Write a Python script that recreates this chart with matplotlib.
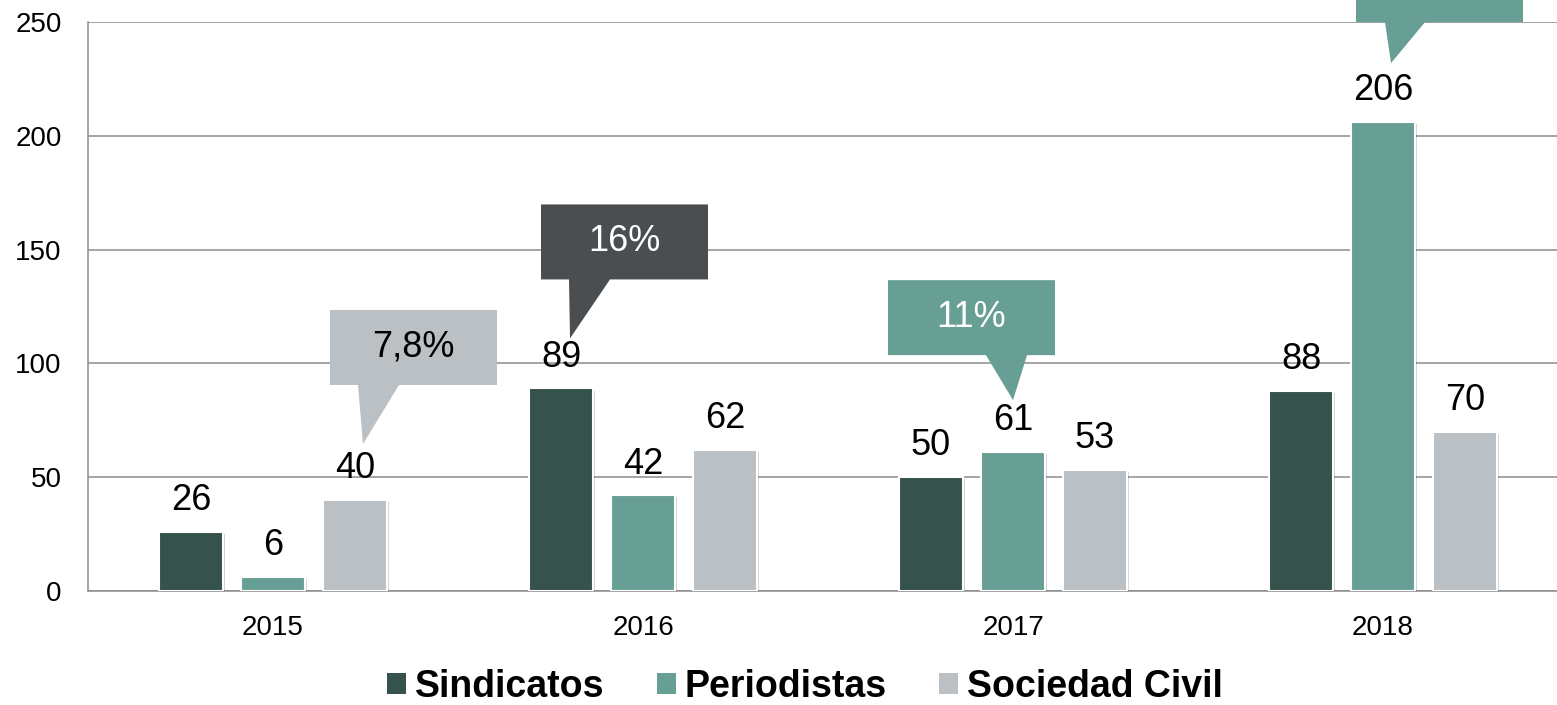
import numpy as np
import matplotlib
matplotlib.use('Agg')
import matplotlib.pyplot as plt
import matplotlib.patheffects as pe
from matplotlib.patches import Polygon, Patch

plt.rcParams['font.family'] = ['Liberation Sans', 'DejaVu Sans']

# ---- datos ----
years = ['2015', '2016', '2017', '2018']
sindicatos = [26, 89, 50, 88]
periodistas = [6, 42, 61, 206]
sociedad_civil = [40, 62, 53, 70]
series_names = ['Sindicatos', 'Periodistas', 'Sociedad Civil']
colors = ['#36524c', '#689f95', '#bbc0c4']

# globos: (año, serie, texto)
callout_year = [0, 1, 2, 3]
callout_series = [2, 0, 1, 1]
callout_text = ['7,8%', '16%', '11%', '36,5%']
callout_color = ['#bbc0c4', '#4b4e51', '#689f95', '#689f95']
callout_textcolor = ['black', 'white', 'white', 'white']
# geometria en pixeles: dx punta, hueco punta, izq caja, hueco caja, base izq, base der
callout_geom = [(8, 56, -33, 59, 28, 69),
                (9, 50, -29, 59, 28, 69),
                (0, 52, -125, 45, 98, 139),
                (8, 59, -35, 41, 29, 69)]
box_w, box_h = 167, 75

W, H = 1557, 705
fig = plt.figure(figsize=(W / 100, H / 100), dpi=100)
ax = fig.add_axes([88 / W, 114 / H, 1480 / W, 569 / H])

x = np.arange(len(years))
w = 0.173
off = 0.2216
data = [sindicatos, periodistas, sociedad_civil]
shadow = [pe.SimplePatchShadow(offset=(1.5, -1.5), alpha=0.2), pe.Normal()]

for i, vals in enumerate(data):
    pos = x + (i - 1) * off
    bars = ax.bar(pos, vals, w, color=colors[i], edgecolor='white',
                  linewidth=1.5, zorder=3)
    for b in bars:
        b.set_path_effects(shadow)
    for xi, v in zip(pos, vals):
        ax.annotate(str(v), (xi, v), xytext=(0, 10), textcoords='offset points',
                    ha='center', va='bottom', fontsize=26, zorder=5)

ax.set_xlim(-0.5, 3.5)
ax.set_ylim(0, 250)

# px -> datos
px_x = 1 / 370
px_y = 250 / 569

for k in range(len(callout_text)):
    yi = callout_year[k]
    si = callout_series[k]
    v = data[si][yi]
    dx, gap, bl, bgap, b1, b2 = callout_geom[k]
    tx = x[yi] + (si - 1) * off + dx * px_x
    ty = v + gap * px_y
    L = tx + bl * px_x
    R = L + box_w * px_x
    B = ty + bgap * px_y
    T = B + box_h * px_y
    pts = [(L, B), (L + b1 * px_x, B), (tx, ty), (L + b2 * px_x, B),
           (R, B), (R, T), (L, T)]
    ax.add_patch(Polygon(pts, closed=True, facecolor=callout_color[k],
                         edgecolor='none', zorder=6, clip_on=False))
    ax.text((L + R) / 2, (B + T) / 2, callout_text[k], ha='center', va='center',
            fontsize=26, color=callout_textcolor[k], zorder=7, clip_on=False)

ax.set_xticks(x, years)
ax.set_yticks(range(0, 251, 50))
ax.tick_params(axis='both', length=0, labelsize=20)
ax.tick_params(axis='y', pad=19)
ax.tick_params(axis='x', pad=17)
ax.yaxis.grid(True, color='#8c8c8c', lw=1.1, zorder=0)
ax.set_axisbelow(True)
for s in ['top', 'right']:
    ax.spines[s].set_visible(False)
for s in ['left', 'bottom']:
    ax.spines[s].set_color('#8c8c8c')
    ax.spines[s].set_linewidth(1.1)

handles = [Patch(facecolor=c, label=n) for c, n in zip(colors, series_names)]
fig.legend(handles=handles, loc='center', bbox_to_anchor=(805 / W, 1 - 687 / H),
           ncol=3, frameon=False, prop={'weight': 'bold', 'size': 27},
           handlelength=0.5, handleheight=0.5, handletextpad=0.24,
           columnspacing=1.4, borderpad=0, borderaxespad=0)

fig.savefig('out.png', dpi=100)
